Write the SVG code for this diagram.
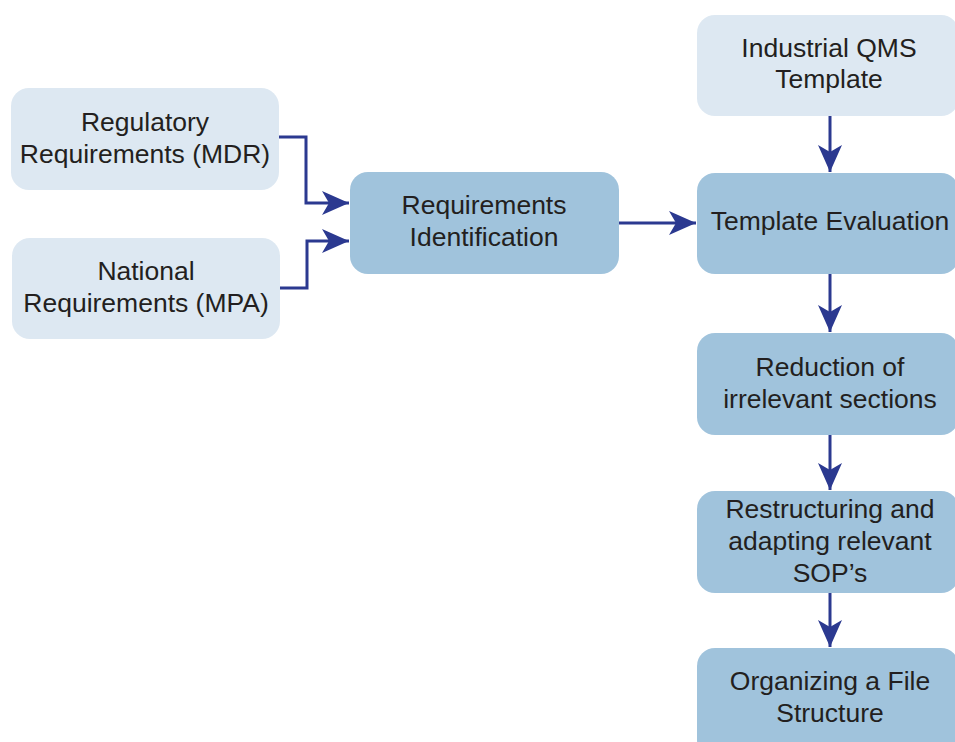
<svg xmlns="http://www.w3.org/2000/svg" width="955" height="742" viewBox="0 0 955 742">
  <defs>
    <style>
      .light { fill: #dde8f2; }
      .dark { fill: #a0c3dc; }
      .label { font-family: "Liberation Sans", Arial, sans-serif; font-size: 26.5px; fill: #231f20; text-anchor: middle; }
      .wire { fill: none; stroke: #2b3990; stroke-width: 3; }
    </style>
    <marker id="head" markerUnits="userSpaceOnUse" markerWidth="32" markerHeight="28" viewBox="-29 -14 32 28" refX="0" refY="0" orient="auto">
      <path d="M0,0 L-27,-12 L-20,0 L-27,12 Z" fill="#2b3990"/>
    </marker>
  </defs>

  <g id="regulatory">
    <rect class="light" x="11" y="88" width="268" height="102" rx="18"/>
    <text class="label" x="145" y="131">Regulatory</text>
    <text class="label" x="145" y="163">Requirements (MDR)</text>
  </g>

  <g id="national">
    <rect class="light" x="12" y="238" width="268" height="101" rx="18"/>
    <text class="label" x="146" y="280">National</text>
    <text class="label" x="146" y="312">Requirements (MPA)</text>
  </g>

  <g id="identification">
    <rect class="dark" x="350" y="172" width="269" height="102" rx="18"/>
    <text class="label" x="484" y="214">Requirements</text>
    <text class="label" x="484" y="246">Identification</text>
  </g>

  <g id="qms-template">
    <rect class="light" x="697" y="15" width="262" height="101" rx="18"/>
    <text class="label" x="829" y="57">Industrial QMS</text>
    <text class="label" x="829" y="88">Template</text>
  </g>

  <g id="evaluation">
    <rect class="dark" x="697" y="173" width="262" height="101" rx="18"/>
    <text class="label" x="830" y="230">Template Evaluation</text>
  </g>

  <g id="reduction">
    <rect class="dark" x="697" y="333" width="262" height="102" rx="18"/>
    <text class="label" x="830" y="376">Reduction of</text>
    <text class="label" x="830" y="408">irrelevant sections</text>
  </g>

  <g id="restructuring">
    <rect class="dark" x="697" y="491" width="262" height="102" rx="18"/>
    <text class="label" x="830" y="518">Restructuring and</text>
    <text class="label" x="830" y="550">adapting relevant</text>
    <text class="label" x="830" y="582">SOP’s</text>
  </g>

  <g id="file-structure">
    <rect class="dark" x="697" y="648" width="262" height="110" rx="18"/>
    <text class="label" x="830" y="690">Organizing a File</text>
    <text class="label" x="830" y="722">Structure</text>
  </g>

  <g id="connectors">
    <path class="wire" d="M279,137 H306 V203 H349" marker-end="url(#head)"/>
    <path class="wire" d="M280,288 H307 V241 H349" marker-end="url(#head)"/>
    <path class="wire" d="M619,223 H696" marker-end="url(#head)"/>
    <path class="wire" d="M830,116 V172" marker-end="url(#head)"/>
    <path class="wire" d="M830,274 V332" marker-end="url(#head)"/>
    <path class="wire" d="M830,435 V490" marker-end="url(#head)"/>
    <path class="wire" d="M830,593 V647" marker-end="url(#head)"/>
  </g>
</svg>
